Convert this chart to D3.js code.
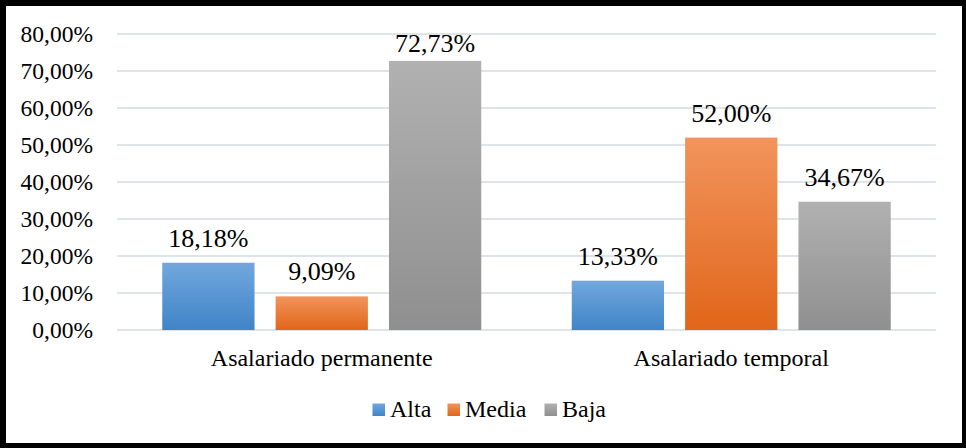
<!DOCTYPE html>
<html><head><meta charset="utf-8">
<script src="https://cdn.jsdelivr.net/npm/d3@7"></script>
</head><body><svg id="c" width="966" height="448" style="position:absolute;left:0;top:0"></svg>
<script>
const categories = ["Asalariado permanente", "Asalariado temporal"];
const seriesNames = ["Alta", "Media", "Baja"];
const alta = [18.18, 13.33];
const media = [9.09, 52.00];
const baja = [72.73, 34.67];
const yTicks = [0, 10, 20, 30, 40, 50, 60, 70, 80];
const colors = {Alta: ["#72a7dd", "#3f85c8"], Media: ["#f2945c", "#e0661a"], Baja: ["#b1b1b1", "#8f8f8f"]};

const values = {Alta: alta, Media: media, Baja: baja};
const svg = d3.select("#c");
const fmt = v => v.toFixed(2).replace(".", ",") + "%";

const x0 = d3.scaleBand().domain(categories).range([117, 936]).paddingInner(0).paddingOuter(0);
const x1 = d3.scaleBand().domain(seriesNames).range([45.25, x0.bandwidth() - 45.25]).paddingInner(0.186).paddingOuter(0);
const y = d3.scaleLinear().domain([0, 80]).range([330, 34]);

const defs = svg.append("defs");
seriesNames.forEach(s => {
  const g = defs.append("linearGradient").attr("id", "g" + s).attr("x1", 0).attr("y1", 0).attr("x2", 0).attr("y2", 1);
  g.append("stop").attr("offset", "0%").attr("stop-color", colors[s][0]);
  g.append("stop").attr("offset", "100%").attr("stop-color", colors[s][1]);
});

svg.append("g").selectAll("line").data(yTicks).join("line")
  .attr("x1", 117).attr("x2", 936).attr("y1", d => y(d)).attr("y2", d => y(d))
  .attr("stroke", "#dfe3ea").attr("stroke-width", 2);

// y axis labels (drawn as plain texts from scale ticks)
svg.append("g").selectAll("text").data(yTicks).join("text")
  .attr("x", 93).attr("y", d => y(d)).attr("dy", "0.33em").attr("text-anchor", "end")
  .style("font-family", '"Times New Roman"').style("font-size", "23.5px")
  .text(fmt);

// bars and labels
categories.forEach((cat, ci) => {
  seriesNames.forEach(s => {
    const v = values[s][ci];
    svg.append("rect").attr("x", x0(cat) + x1(s)).attr("width", x1.bandwidth())
      .attr("y", y(v)).attr("height", y(0) - y(v)).attr("fill", `url(#g${s})`);
  });
});
const labelData = [];
categories.forEach((cat, ci) => seriesNames.forEach(s => labelData.push({cat, s, v: values[s][ci]})));
svg.append("g").selectAll("text").data(labelData).join("text")
  .attr("x", d => x0(d.cat) + x1(d.s) + x1.bandwidth() / 2)
  .attr("y", d => Math.max(y(d.v) - 16, y(80) + 18))
  .attr("text-anchor", "middle")
  .style("font-family", '"Tinos"').style("font-size", "26px")
  .text(d => fmt(d.v));

// category labels
svg.append("g").selectAll("text").data(categories).join("text")
  .attr("x", d => x0(d) + x0.bandwidth() / 2).attr("y", 366).attr("text-anchor", "middle")
  .style("font-family", '"Liberation Serif"').style("font-size", "24px")
  .text(d => d);

// legend
const legX = {Alta: 372.5, Media: 447.5, Baja: 544.5};
svg.append("g").selectAll("rect").data(seriesNames).join("rect")
  .attr("x", d => legX[d]).attr("y", 403.5).attr("width", 12.5).attr("height", 12.5).attr("fill", d => `url(#g${d})`);
svg.append("g").selectAll("text").data(seriesNames).join("text")
  .attr("x", d => legX[d] + 17.5).attr("y", 417)
  .style("font-family", '"Liberation Serif"').style("font-size", "24px")
  .text(d => d);

// border
svg.append("rect").attr("x", 0).attr("y", 0).attr("width", 966).attr("height", 6).attr("fill", "#000");
svg.append("rect").attr("x", 0).attr("y", 0).attr("width", 6).attr("height", 448).attr("fill", "#000");
svg.append("rect").attr("x", 962).attr("y", 0).attr("width", 4).attr("height", 448).attr("fill", "#000");
svg.append("rect").attr("x", 0).attr("y", 443).attr("width", 966).attr("height", 5).attr("fill", "#000");
</script></body></html>
